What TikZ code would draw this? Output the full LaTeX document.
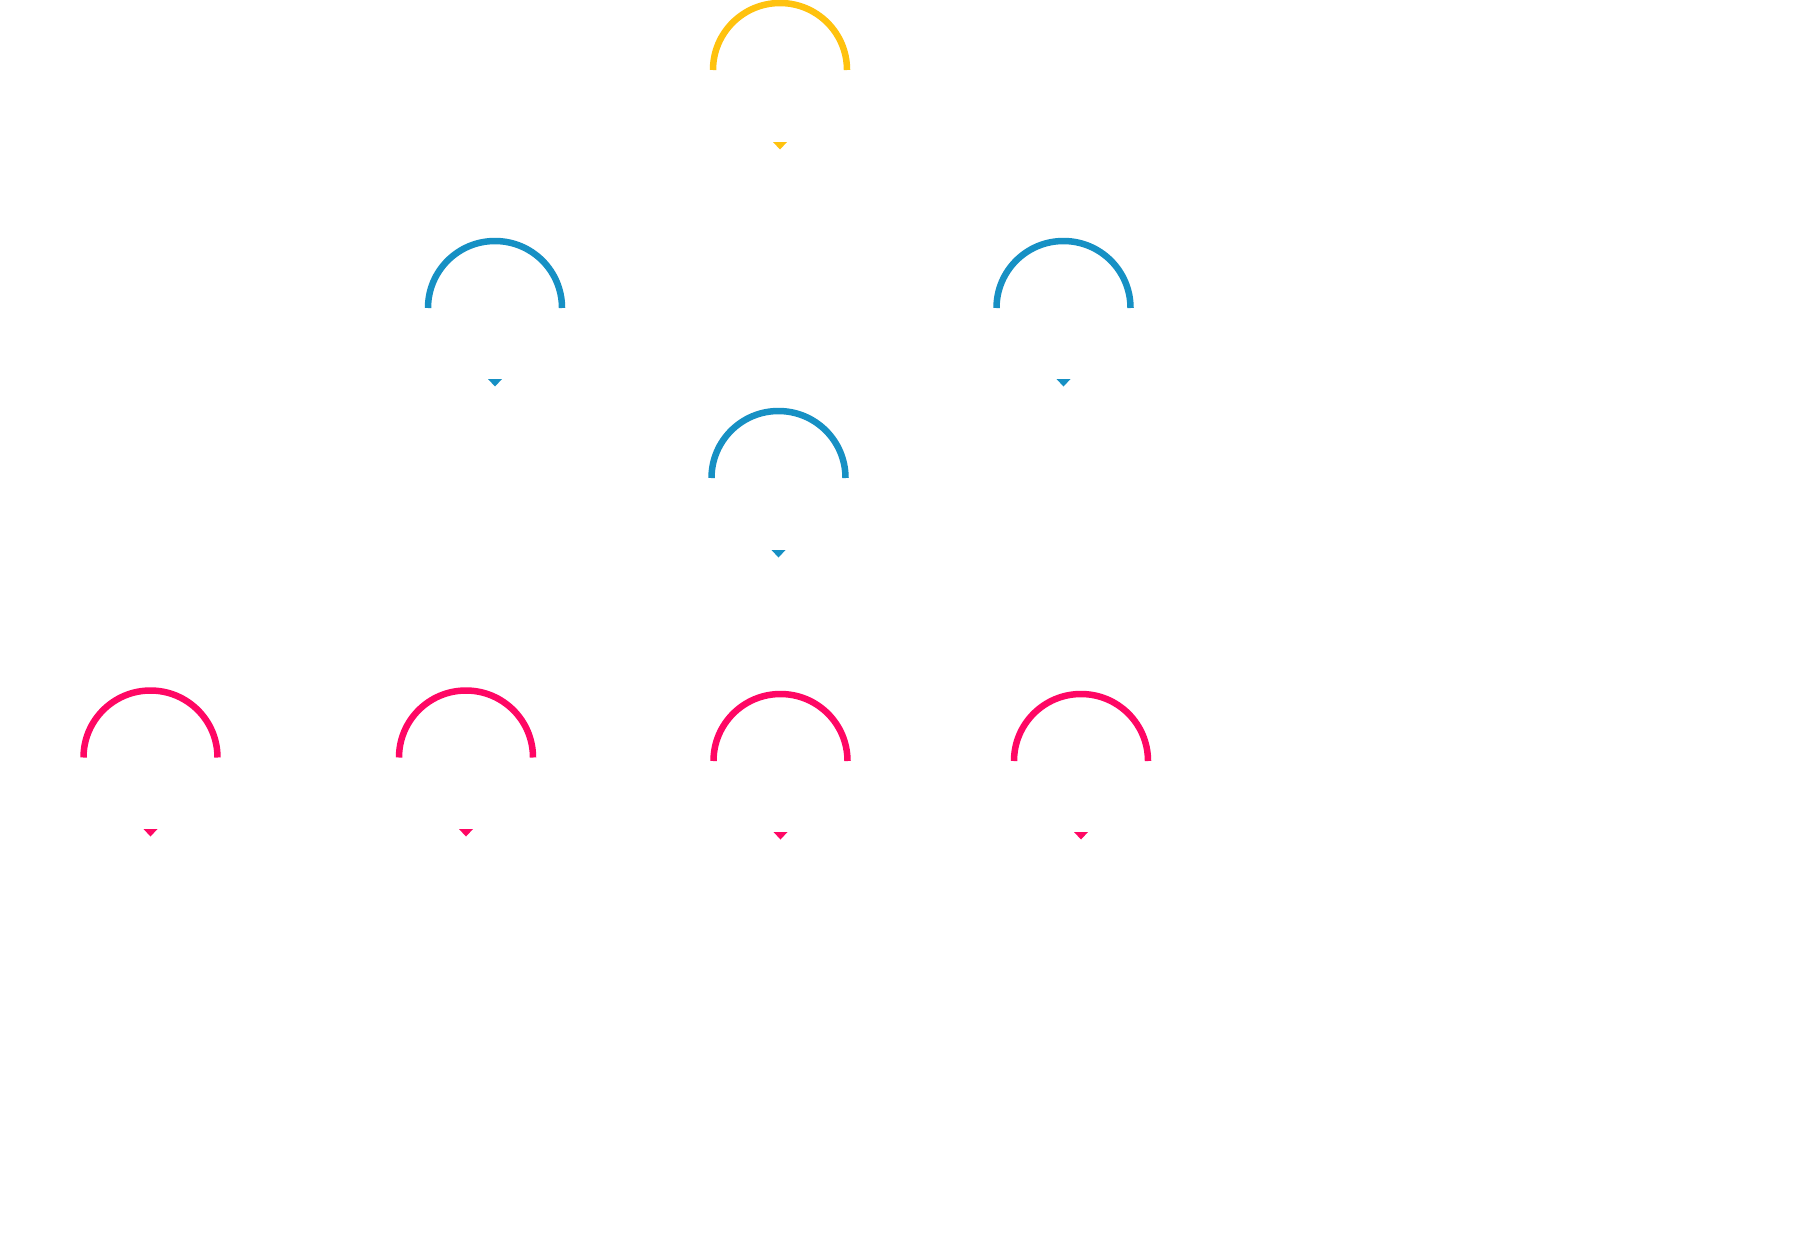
\documentclass[tikz,border=0pt]{standalone}
\definecolor{cyel}{HTML}{FFC20E}
\definecolor{cblu}{HTML}{1690C4}
\definecolor{cpnk}{HTML}{FF0764}
\tikzset{
  arcline/.style={line width=6.5pt},
  tipmark/.style={fill}
}
% #1 name, #2 colour, #3 x, #4 y (arc centre), #5 triangle top y
\newcommand\ringunit[5]{%
  \coordinate (#1) at (#3,#4);
  \draw[arcline,#2] ([xshift=-67pt]#1) arc[start angle=180,end angle=0,radius=67pt];
  \coordinate (#1tip) at (#3,#5);
  \fill[tipmark,#2] ([xshift=-7pt]#1tip) -- ([xshift=7pt]#1tip) -- ([yshift=-7.5pt]#1tip) -- cycle;
}
\begin{document}
\begin{tikzpicture}[x=1pt,y=-1pt]
\useasboundingbox (0,0) rectangle (1809,1234);
\fill[white] (0,0) rectangle (1809,1234);
\ringunit{top}{cyel}{780}{70}{142}
\ringunit{bl}{cblu}{495}{308}{379}
\ringunit{br}{cblu}{1063.5}{308}{379}
\ringunit{bm}{cblu}{778.5}{478}{550}
\ringunit{pa}{cpnk}{150.5}{757.5}{829}
\ringunit{pb}{cpnk}{466}{757.5}{829}
\ringunit{pc}{cpnk}{780.5}{761}{832}
\ringunit{pd}{cpnk}{1081}{761}{832}
\end{tikzpicture}
\end{document}
